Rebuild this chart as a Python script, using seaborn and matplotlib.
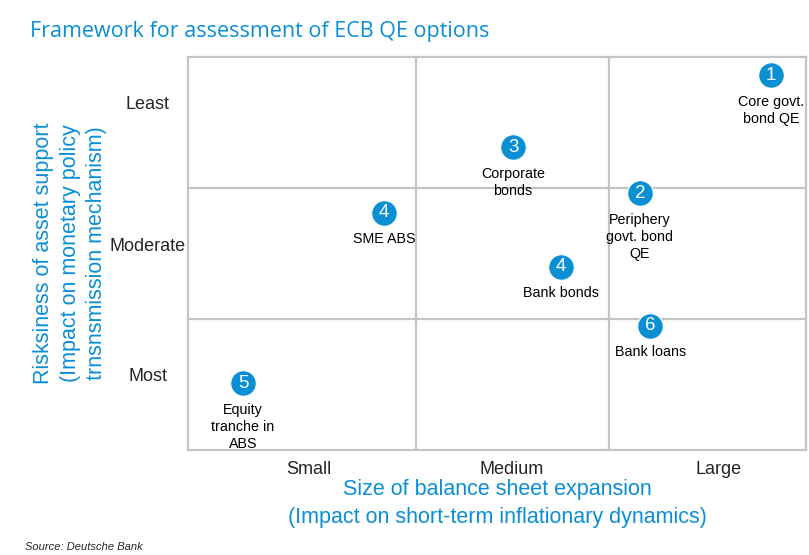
import matplotlib
matplotlib.use("Agg")
import matplotlib.pyplot as plt
import seaborn as sns
import pandas as pd

# options placed on the assessment grid
numbers = ["1", "2", "3", "4", "4", "5", "6"]
names = ["Core govt.\nbond QE", "Periphery\ngovt. bond\nQE", "Corporate\nbonds",
         "SME ABS", "Bank bonds", "Equity\ntranche in\nABS", "Bank loans"]
size_score = [9.43, 7.31, 5.26, 3.17, 6.04, 0.89, 7.48]
risk_score = [2.86, 1.96, 2.31, 1.81, 1.40, 0.51, 0.95]

x_bounds = [3.69, 6.81]
y_bounds = [1, 2]
x_labels = ["Small", "Medium", "Large"]
x_label_pos = [1.96, 5.24, 8.59]
y_labels = ["Most", "Moderate", "Least"]
y_label_pos = [0.58, 1.57, 2.65]

BLUE = "#0b8fd3"
GRID = "#c4c4c4"

df = pd.DataFrame({"num": numbers, "name": names, "x": size_score, "y": risk_score})

sns.set_style("white")
plt.rcParams["font.family"] = ["Liberation Sans", "DejaVu Sans"]

fig = plt.figure(figsize=(8.09, 5.55), dpi=100)
ax = fig.add_axes([188 / 809, 105 / 555, 618 / 809, 393 / 555])

sns.scatterplot(data=df, x="x", y="y", s=340, color=BLUE, edgecolor="white",
                linewidth=0.8, ax=ax, zorder=3, legend=False)

for _, r in df.iterrows():
    ax.text(r["x"], r["y"], r["num"], color="white", fontsize=13.5,
            ha="center", va="center", zorder=4)
    ax.annotate(r["name"], (r["x"], r["y"]), xytext=(0, -14), textcoords="offset points",
                ha="center", va="top", fontsize=10.3, color="black",
                linespacing=1.3, zorder=4)

for xb in x_bounds:
    ax.axvline(xb, color=GRID, lw=1.6, zorder=1)
for yb in y_bounds:
    ax.axhline(yb, color=GRID, lw=1.6, zorder=1)

ax.set_xlim(0, 10)
ax.set_ylim(0, 3)
for sp in ax.spines.values():
    sp.set_color(GRID)
    sp.set_linewidth(1.6)

ax.set_xticks(x_label_pos)
ax.set_xticklabels(x_labels, fontsize=13)
ax.set_yticks(y_label_pos)
ax.set_yticklabels(y_labels, fontsize=13, ha="center")
ax.tick_params(axis="x", length=0, pad=8)
ax.tick_params(axis="y", length=0, pad=29)

ax.set_xlabel("Size of balance sheet expansion\n(Impact on short-term inflationary dynamics)",
              color=BLUE, fontsize=15.5, labelpad=1, linespacing=1.38)
ax.set_ylabel("Risksiness of asset support\n(Impact on monetary policy\ntrnsnsmission mechanism)",
              color=BLUE, fontsize=15.5, labelpad=2, linespacing=1.33)

fig.text(30 / 809, 1 - 31 / 555, "Framework for assessment of ECB QE options",
         color=BLUE, fontsize=15.5, ha="left", va="center", family=["Open Sans", "DejaVu Sans"])
fig.text(25 / 809, 1 - 547 / 555, "Source: Deutsche Bank", fontsize=8,
         style="italic", ha="left", va="center")

fig.savefig("out.png", dpi=100)
